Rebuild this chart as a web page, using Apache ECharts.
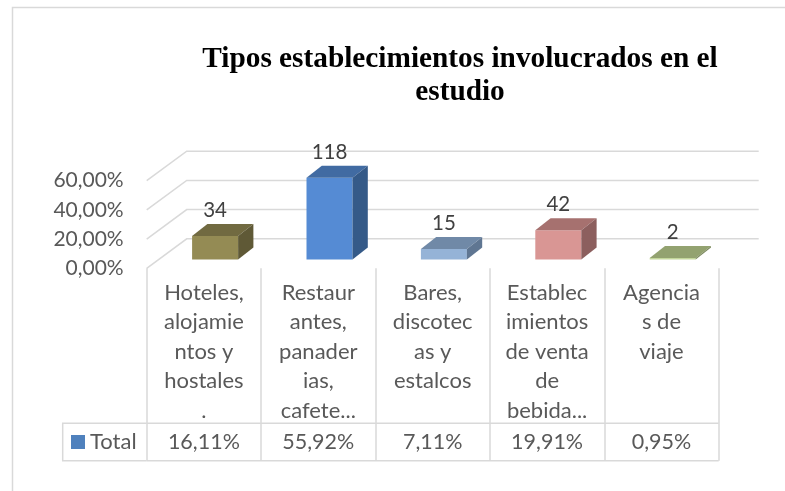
<!DOCTYPE html>
<html>
<head>
<meta charset="utf-8">
<style>html,body{margin:0;padding:0;background:#fff}#chart{width:785px;height:491px}</style>
<script src="https://cdn.jsdelivr.net/npm/echarts@6/dist/echarts.min.js"></script>
</head>
<body>
<div id="chart"></div>
<script>
const categories = [
  'Hoteles,\nalojamie\nntos y\nhostales\n.',
  'Restaur\nantes,\npanader\nias,\ncafete...',
  'Bares,\ndiscotec\nas y\nestalcos',
  'Establec\nimientos\nde venta\nde\nbebida...',
  'Agencia\ns de\nviaje'
]
const percents = [16.11, 55.92, 7.11, 19.91, 0.95]
const percentLabels = ['16,11%', '55,92%', '7,11%', '19,91%', '0,95%']
const counts = [34, 118, 15, 42, 2]
const yTicks = [0, 20, 40, 60]
const yTickLabels = ['0,00%', '20,00%', '40,00%', '60,00%']

// front, top, side
const barColors = [
  ['#948b54', '#716a41', '#5f5936'],
  ['#558bd4', '#416ba2', '#355a88'],
  ['#95b3d7', '#7089a7', '#5f7692'],
  ['#d99694', '#a6716f', '#8c5f5e'],
  ['#c3d69b', '#93a270', '#7c895e']
]

const font = 'Lato'
const textColor = '#595959'
const lineColor = '#d9d9d9'

// 3d look: wall depth and where the bar sits inside it
const wallDx = 40, wallDy = -29.5
const barDx = 11.2, barDy = -8.9, barW = 46, barDepthX = 15.3, barDepthY = -12

function poly(points, fill) {
  return { type: 'polygon', shape: { points }, style: { fill } }
}

function renderBar(params, api) {
  const i = api.value(0)
  const base = api.coord([i, 0])
  const top = api.coord([i, api.value(1)])
  const x0 = base[0] + barDx - barW / 2
  const x1 = x0 + barW
  const y0 = base[1] + barDy
  const y1 = top[1] + barDy
  const c = barColors[i]
  return {
    type: 'group',
    children: [
      poly([[x0, y0], [x1, y0], [x1, y1], [x0, y1]], c[0]),
      poly([[x0, y1], [x1, y1], [x1 + barDepthX, y1 + barDepthY], [x0 + barDepthX, y1 + barDepthY]], c[1]),
      poly([[x1, y0], [x1 + barDepthX, y0 + barDepthY], [x1 + barDepthX, y1 + barDepthY], [x1, y1]], c[2]),
      {
        type: 'text',
        style: {
          x: (x0 + x1) / 2,
          y: y1 - 25.5,
          text: String(api.value(2)),
          align: 'center',
          verticalAlign: 'middle',
          fontFamily: font,
          fontSize: 20.5,
          fill: '#404040'
        }
      }
    ]
  }
}

function renderWallLine(params, api) {
  const y = api.coord([0, api.value(1)])[1]
  const box = params.coordSys
  return {
    type: 'polyline',
    shape: {
      points: [
        [box.x, y],
        [box.x + wallDx, y + wallDy],
        [box.x + box.width + wallDx, y + wallDy]
      ]
    },
    style: { stroke: lineColor, lineWidth: 1.5, fill: null }
  }
}

const chart = echarts.init(document.getElementById('chart'), null, { renderer: 'canvas' })
chart.setOption({
  animation: false,
  backgroundColor: '#fff',
  title: {
    text: 'Tipos establecimientos involucrados en el\nestudio',
    left: 455,
    top: 38,
    textAlign: 'center',
    textStyle: {
      fontFamily: 'Liberation Serif',
      fontWeight: 'bold',
      fontSize: 29.3,
      lineHeight: 33,
      color: '#000'
    }
  },
  legend: {
    data: ['Total'],
    left: 71,
    top: 431,
    padding: 0,
    icon: 'rect',
    itemWidth: 14,
    itemHeight: 14,
    selectedMode: false,
    textStyle: { fontFamily: font, fontSize: 22, color: textColor }
  },
  grid: { left: 146.7, width: 572, top: 180.7, height: 87.6 },
  xAxis: [
    {
      type: 'category',
      data: categories,
      axisLine: { show: false },
      axisTick: { show: true, length: 192.4, lineStyle: { color: lineColor, width: 1.5 } },
      axisLabel: {
        interval: 0,
        hideOverlap: false,
        margin: 9.5,
        fontFamily: font,
        fontSize: 22,
        lineHeight: 29.6,
        color: textColor
      }
    },
    {
      type: 'category',
      position: 'bottom',
      data: percentLabels,
      axisLine: { show: false },
      axisTick: { show: false },
      axisLabel: {
        interval: 0,
        hideOverlap: false,
        margin: 162.5,
        fontFamily: font,
        fontSize: 21.5,
        color: textColor
      }
    }
  ],
  yAxis: {
    type: 'value',
    min: 0,
    max: 60,
    interval: 20,
    axisLine: { show: false },
    axisTick: { show: false },
    splitLine: { show: false },
    axisLabel: {
      margin: 23,
      fontFamily: font,
      fontSize: 21,
      color: textColor,
      formatter: (v) => yTickLabels[yTicks.indexOf(v)]
    }
  },
  graphic: [
    // chart frame, only top and left show in the picture
    { type: 'polyline', shape: { points: [[785, 7.5], [12.5, 7.5], [12.5, 491]] }, style: { stroke: lineColor, lineWidth: 1.5, fill: null } },
    // data table outline
    { type: 'polyline', shape: { points: [[146.7, 423.3], [62.7, 423.3], [62.7, 460.7], [146.7, 460.7]] }, style: { stroke: lineColor, lineWidth: 1.5, fill: null } },
    { type: 'line', shape: { x1: 146.7, y1: 423.3, x2: 718.7, y2: 423.3 }, style: { stroke: lineColor, lineWidth: 1.5 } },
    { type: 'line', shape: { x1: 146.7, y1: 460.7, x2: 718.7, y2: 460.7 }, style: { stroke: lineColor, lineWidth: 1.5 } }
  ],
  series: [
    {
      name: 'wall',
      type: 'custom',
      z: 1,
      silent: true,
      renderItem: renderWallLine,
      data: yTicks.map((t) => [0, t])
    },
    {
      name: 'Total',
      type: 'custom',
      z: 2,
      itemStyle: { color: '#4f81bd' },
      renderItem: renderBar,
      encode: { x: 0, y: 1 },
      data: percents.map((p, i) => [i, p, counts[i]])
    }
  ]
})
</script>
</body>
</html>
